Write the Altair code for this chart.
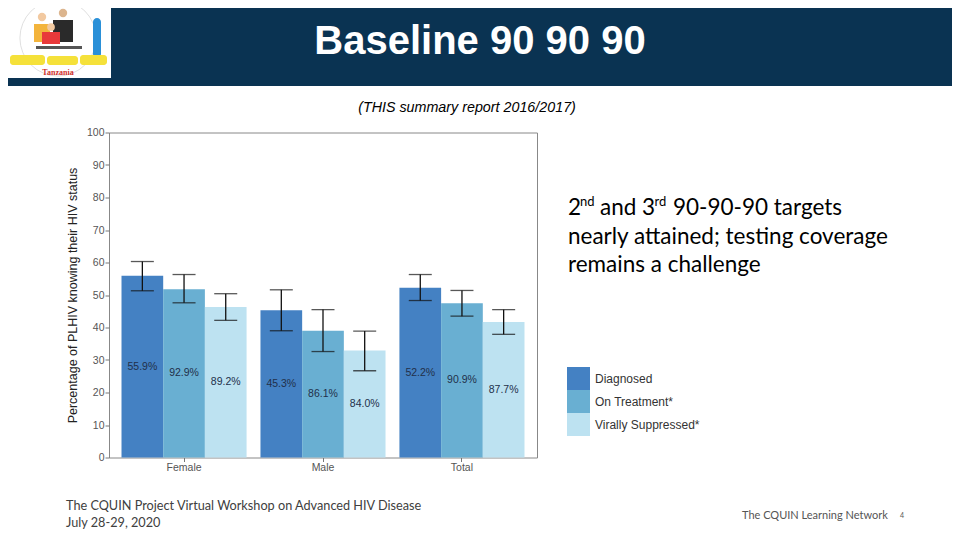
import altair as alt
import pandas as pd

# ---------------- data ----------------
groups = ["Female", "Male", "Total"]
series = ["Diagnosed", "On Treatment*", "Virally Suppressed*"]
colors = ["#4481c3", "#69afd2", "#bde2f1"]

diagnosed = [55.9, 45.3, 52.2]
on_treatment = [51.8, 39.0, 47.5]
suppressed = [46.3, 32.9, 41.7]

diag_lo = [51.3, 39.0, 48.3]
diag_hi = [60.3, 51.6, 56.3]
treat_lo = [47.6, 32.6, 43.5]
treat_hi = [56.3, 45.5, 51.4]
supp_lo = [42.2, 26.7, 37.9]
supp_hi = [50.4, 38.9, 45.5]

diag_labels = ["55.9%", "45.3%", "52.2%"]
treat_labels = ["92.9%", "86.1%", "90.9%"]
supp_labels = ["89.2%", "84.0%", "87.7%"]

y_ticks = [0, 10, 20, 30, 40, 50, 60, 70, 80, 90, 100]

rows = []
for s, vals, lo, hi, labs in [
    (series[0], diagnosed, diag_lo, diag_hi, diag_labels),
    (series[1], on_treatment, treat_lo, treat_hi, treat_labels),
    (series[2], suppressed, supp_lo, supp_hi, supp_labels),
]:
    for g, v, l, h, lab in zip(groups, vals, lo, hi, labs):
        rows.append({"group": g, "series": s, "value": v, "lo": l, "hi": h,
                     "mid": v / 2, "label": lab})
df = pd.DataFrame(rows)

# ---------------- layout ----------------
PL, PT = 101, 124.5          # padding -> plot area at page (109, 132.5)
W, H = 428, 325
PR = 944 - PL - W
PB = 524 - PT - H
OX, OY = 8 + PL, 8 + PT      # page origin of plot area

one = alt.Data(values=[{"k": 1}])

def px(x):
    return alt.value(x - OX)

def py(y):
    return alt.value(y - OY)

def txt(s, x, y, size, color="#000000", font="Lato", align="left", **kw):
    return alt.Chart(one).mark_text(
        text=s, align=align, baseline="alphabetic", fontSize=size,
        color=color, font=font, **kw
    ).encode(x=px(x), y=py(y))

def box(x1, x2, y1, y2, color, **kw):
    return alt.Chart(one).mark_rect(color=color, **kw).encode(
        x=px(x1), x2=px(x2), y=py(y1), y2=py(y2))

def dot(x, y, size, color, **kw):
    return alt.Chart(one).mark_point(shape="circle", size=size, color=color,
                                     **kw).encode(x=px(x), y=py(y))

# ---------------- chart ----------------
base = alt.Chart(df)
xaxis = alt.Axis(title=None, labelAngle=0, labelFontSize=10.5,
                 labelColor="#555555", labelFont="Liberation Sans",
                 tickColor="#777777", tickSize=4, labelPadding=1,
                 domain=False)
yaxis = alt.Axis(values=y_ticks, grid=False,
                 title="Percentage of PLHIV knowing their HIV status",
                 titleFontSize=12.5, titleFont="Liberation Sans",
                 titleFontWeight="normal", titleColor="#222222",
                 titlePadding=7,
                 labelFontSize=10.5, labelColor="#555555",
                 labelFont="Liberation Sans", labelPadding=1,
                 tickColor="#777777", tickSize=4, domain=False)
xenc = alt.X("group:N", sort=groups,
             scale=alt.Scale(paddingInner=0.1, paddingOuter=0.09),
             axis=xaxis)
xoff = alt.XOffset("series:N", sort=series,
                   scale=alt.Scale(paddingInner=0, paddingOuter=0))
yscale = alt.Scale(domain=[0, 100], nice=False)

def yenc(field):
    return alt.Y(field, scale=yscale, axis=yaxis)

bars = base.mark_bar().encode(
    x=xenc, xOffset=xoff,
    y=yenc("value:Q"),
    color=alt.Color("series:N", sort=series,
                    scale=alt.Scale(domain=series, range=colors),
                    legend=alt.Legend(title=None, orient="none",
                                      legendX=458, legendY=234.5,
                                      symbolType="square", symbolSize=529,
                                      symbolStrokeWidth=0, symbolOpacity=1,
                                      rowPadding=0, labelFontSize=12,
                                      labelFont="Liberation Sans",
                                      labelColor="#333333", labelOffset=5,
                                      padding=0)),
)

rule = base.mark_rule(color="#111111", strokeWidth=1.3).encode(
    x=xenc, xOffset=xoff, y=yenc("lo:Q"), y2="hi:Q")
cap_lo = base.mark_tick(color="#111111", thickness=1.3, size=23).encode(
    x=xenc, xOffset=xoff, y=yenc("lo:Q"))
cap_hi = base.mark_tick(color="#111111", thickness=1.3, size=23).encode(
    x=xenc, xOffset=xoff, y=yenc("hi:Q"))
labels = base.mark_text(fontSize=10.5, color="#22304a",
                        font="Liberation Sans").encode(
    x=xenc, xOffset=xoff, y=yenc("mid:Q"), text="label:N")

# ---------------- slide decorations ----------------
header = box(0, 960, 0, 86, "#0a3352")
logo = [
    box(7, 111, 0, 78, "#ffffff"),
    dot(58, 38, 5800, "#c8c8c8", filled=False, strokeWidth=0.8),
    box(34, 50, 24, 42, "#f3b43c"),
    box(53, 73, 20, 42, "#2a2a2a"),
    box(42, 60, 32, 44, "#e8393a"),
    dot(42, 17, 70, "#f2c9a0", filled=True, opacity=1),
    dot(63, 13, 70, "#dcb58e", filled=True, opacity=1),
    dot(51, 27, 60, "#f2c9a0", filled=True, opacity=1),
    box(36, 82, 46, 49, "#555555"),
    box(93, 101, 18, 58, "#2a90d8", cornerRadius=4),
    box(10, 45, 55, 65, "#f5e13a", cornerRadius=3),
    box(47, 78, 56, 65, "#f5e13a", cornerRadius=3),
    box(80, 107, 55, 65, "#f5e13a", cornerRadius=3),
    txt("Tanzania", 58, 75, 8, color="#d0302a", font="Liberation Serif",
        align="center", fontWeight="bold"),
]

title = txt("Baseline 90 90 90", 480, 54, 40, color="#ffffff",
            font="Liberation Sans", align="center", fontWeight="bold")
subtitle = txt("(THIS summary report 2016/2017)", 467, 111.5, 14.3,
               font="Liberation Sans", align="center", fontStyle="italic")

ann = [
    txt("2", 568, 215, 22.5),
    txt("nd", 580, 206, 13),
    txt("and", 600, 215, 22.5),
    txt("3", 642, 215, 22.5),
    txt("rd", 654.5, 206, 13),
    txt("90-90-90 targets", 673, 215, 22.5),
    txt("nearly attained; testing coverage", 568, 243.5, 22.5),
    txt("remains a challenge", 568, 272, 22.5),
]

foot = [
    txt("The CQUIN Project Virtual Workshop on Advanced HIV Disease", 66, 510,
        12.7, color="#404040"),
    txt("July 28-29, 2020", 66, 527, 12.7, color="#404040"),
    txt("The CQUIN Learning Network", 742, 519, 11, color="#555555"),
    txt("4", 900, 518, 7, color="#555555"),
]

chart = alt.layer(
    header, *logo, title, subtitle,
    bars, rule, cap_lo, cap_hi, labels,
    *ann, *foot
).properties(
    width=W, height=H,
    autosize=alt.AutoSizeParams(type="none"),
    padding={"left": PL, "top": PT, "right": PR, "bottom": PB},
).configure_view(
    stroke="#888888", strokeWidth=1
)

chart.save("out.html", embed_options={"renderer": "svg", "actions": False})
